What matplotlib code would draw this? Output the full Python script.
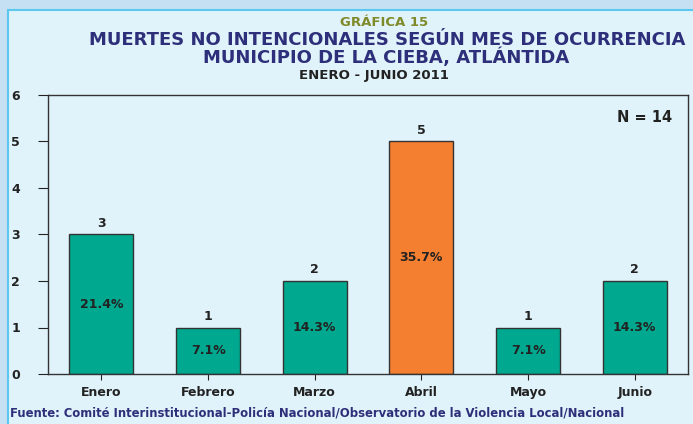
import matplotlib.pyplot as plt
from matplotlib.patches import Rectangle

meses = ['Enero', 'Febrero', 'Marzo', 'Abril', 'Mayo', 'Junio']
casos = [3, 1, 2, 5, 1, 2]
porcentajes = ['21.4%', '7.1%', '14.3%', '35.7%', '7.1%', '14.3%']
total = 14

plt.rcParams['font.family'] = ['DejaVu Sans']
plt.rcParams['font.weight'] = 'bold'

fig = plt.figure(figsize=(6.93, 4.24), dpi=100)
fig.patch.set_facecolor('#c6e0f3')
# inner panel
fig.patches.append(Rectangle((8/693, -0.05), 1, 1.05 - 10/424, transform=fig.transFigure,
                             facecolor='#e1f3fa', edgecolor='#5bc8ef', linewidth=1.5, zorder=-5))

ax = fig.add_axes([48/693, 1 - 374/424, 640/693, 279/424])
ax.set_facecolor('#e1f3fa')

colores = ['#00a88f' if c != max(casos) else '#f47f30' for c in casos]
x = range(len(meses))
bars = ax.bar(x, casos, width=0.6, color=colores, edgecolor='#333333', linewidth=1)

for i, (c, p) in enumerate(zip(casos, porcentajes)):
    ax.text(i, c + 0.1, str(c), ha='center', va='bottom', fontsize=9, color='#222222')
    ax.text(i, c / 2, p, ha='center', va='center', fontsize=9, color='#222222')

ax.set_xlim(-0.5, 5.5)
ax.set_ylim(0, 6)
ax.set_xticks(list(x))
ax.set_xticklabels(meses, fontsize=9, color='#222222')
ax.set_yticks(range(7))
ax.tick_params(axis='y', labelsize=9, length=7, direction='out', colors='#222222', pad=13)
ax.tick_params(axis='x', length=4.5, direction='out', colors='#222222', pad=4)
for s in ax.spines.values():
    s.set_color('#333333')
    s.set_linewidth(1)

ax.text(0.975, 0.92, 'N = %d' % total, transform=ax.transAxes, ha='right', va='center',
        fontsize=10.5, color='#222222')

fig.text(384/693, 1 - 22/424, 'GRÁFICA 15', ha='center', va='center', fontsize=9.5, color='#7f8a2a')
fig.text(387/693, 1 - 40/424, 'MUERTES NO INTENCIONALES SEGÚN MES DE OCURRENCIA',
         ha='center', va='center', fontsize=13, color='#2e2f7a')
fig.text(386/693, 1 - 57/424, 'MUNICIPIO DE LA CIEBA, ATLÁNTIDA',
         ha='center', va='center', fontsize=13, color='#2e2f7a')
fig.text(374/693, 1 - 76/424, 'ENERO - JUNIO 2011', ha='center', va='center', fontsize=9.5, color='#222222')
fig.text(10/693, 1 - 413/424,
         'Fuente: Comité Interinstitucional-Policía Nacional/Observatorio de la Violencia Local/Nacional',
         ha='left', va='center', fontsize=8.4, color='#2e2f7a')

fig.savefig('out.png', dpi=100, facecolor=fig.get_facecolor())
